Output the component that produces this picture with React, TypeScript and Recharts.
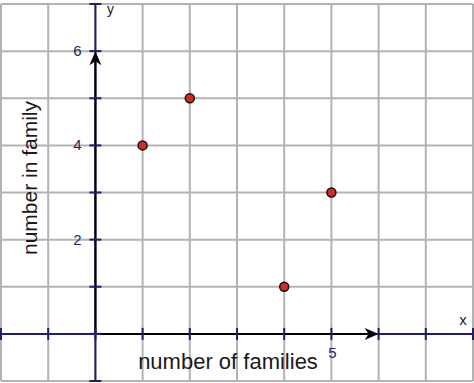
import React from "react";
import {
  ScatterChart,
  Scatter,
  XAxis,
  YAxis,
  CartesianGrid,
  ReferenceLine,
  ReferenceDot,
} from "recharts";

// data
const families = [1, 2, 4, 5];
const members = [4, 5, 1, 3];
const xTicks = [-2, -1, 0, 1, 2, 3, 4, 5, 6, 7, 8];
const yTicks = [-1, 0, 1, 2, 3, 4, 5, 6, 7];
const yTickLabels = [2, 4, 6];
const xTickLabels = [5];
const xArrowEnd = 6;
const yArrowEnd = 6;

const points = families.map((f, i) => ({ x: f, y: members[i] }));

const W = 474;
const H = 383;
const NAVY = "#1f1f6b";
const GRID = "#b3b3b3";
const FONT = "'Liberation Sans', Arial, sans-serif";

const xTickShape = (p: any) => (
  <line x1={p.cx} y1={p.cy - 6} x2={p.cx} y2={p.cy + 6} stroke={NAVY} strokeWidth={2} />
);
const yTickShape = (p: any) => (
  <line x1={p.cx - 6} y1={p.cy} x2={p.cx + 6} y2={p.cy} stroke={NAVY} strokeWidth={2} />
);

const arrowShape = (p: any) => {
  const { x1, y1, x2, y2 } = p;
  const dx = x2 - x1;
  const dy = y2 - y1;
  const len = Math.sqrt(dx * dx + dy * dy) || 1;
  const ux = dx / len;
  const uy = dy / len;
  const bx = x2 - ux * 14;
  const by = y2 - uy * 14;
  const head = `${x2},${y2} ${bx - uy * 6},${by + ux * 6} ${bx + 4 * ux},${by + 4 * uy} ${bx + uy * 6},${by - ux * 6}`;
  return (
    <g>
      <line x1={x1} y1={y1} x2={bx + 4 * ux} y2={by + 4 * uy} stroke="#000" strokeWidth={2} />
      <polygon points={head} fill="#000" />
    </g>
  );
};

const Dot = (p: any) => (
  <circle cx={p.cx} cy={p.cy} r={4.5} fill="#d42a26" stroke="#111" strokeWidth={1.5} />
);

export default function App() {
  return (
    <div style={{ position: "absolute", left: 0, top: 0, width: W, height: H, background: "#fff" }}>
      <ScatterChart width={W} height={H} margin={{ top: 4, right: 1, bottom: 2, left: 1 }}>
        <CartesianGrid stroke={GRID} strokeWidth={2} />
        <XAxis type="number" dataKey="x" domain={[-2, 8]} ticks={xTicks} hide />
        <YAxis type="number" dataKey="y" domain={[-1, 7]} ticks={yTicks} hide />
        <ReferenceLine y={0} stroke={NAVY} strokeWidth={2} />
        <ReferenceLine x={0} stroke={NAVY} strokeWidth={2} />
        {xTicks.map((t) => (
          <ReferenceDot key={"xt" + t} x={t} y={0} shape={xTickShape} />
        ))}
        {yTicks.map((t) => (
          <ReferenceDot key={"yt" + t} x={0} y={t} shape={yTickShape} />
        ))}
        <ReferenceLine
          segment={[{ x: 0, y: 0 }, { x: xArrowEnd, y: 0 }]}
          shape={arrowShape}
        />
        <ReferenceLine
          segment={[{ x: 0, y: 0 }, { x: 0, y: yArrowEnd }]}
          shape={arrowShape}
        />
        {yTickLabels.map((t) => (
          <ReferenceDot
            key={"yl" + t}
            x={0}
            y={t}
            shape={(p: any) => (
              <text x={p.cx - 18} y={p.cy + 5} textAnchor="middle" fontSize={15} fill={NAVY} fontFamily={FONT}>
                {t}
              </text>
            )}
          />
        ))}
        {xTickLabels.map((t) => (
          <ReferenceDot
            key={"xl" + t}
            x={t}
            y={0}
            shape={(p: any) => (
              <text x={p.cx + 1} y={p.cy + 24} textAnchor="middle" fontSize={15} fill={NAVY} fontFamily={FONT}>
                {t}
              </text>
            )}
          />
        ))}
        <ReferenceDot
          x={0}
          y={7}
          shape={(p: any) => (
            <text x={p.cx + 15} y={p.cy + 10} textAnchor="middle" fontSize={14} fill="#222" fontFamily={FONT}>
              y
            </text>
          )}
        />
        <ReferenceDot
          x={8}
          y={0}
          shape={(p: any) => (
            <text x={p.cx - 10} y={p.cy - 9} textAnchor="middle" fontSize={15} fill="#222" fontFamily={FONT}>
              x
            </text>
          )}
        />
        <Scatter data={points} shape={Dot} isAnimationActive={false} />
      </ScatterChart>
      <svg
        width={W}
        height={H}
        style={{ position: "absolute", left: 0, top: 0, pointerEvents: "none" }}
      >
        <text x={228} y={369} textAnchor="middle" fontSize={22} fill="#1a1a1a" fontFamily={FONT}>
          number of families
        </text>
        <text
          x={37}
          y={178}
          textAnchor="middle"
          fontSize={21}
          fill="#1a1a1a"
          fontFamily={FONT}
          transform="rotate(-90 37 178)"
        >
          number in family
        </text>
      </svg>
    </div>
  );
}
